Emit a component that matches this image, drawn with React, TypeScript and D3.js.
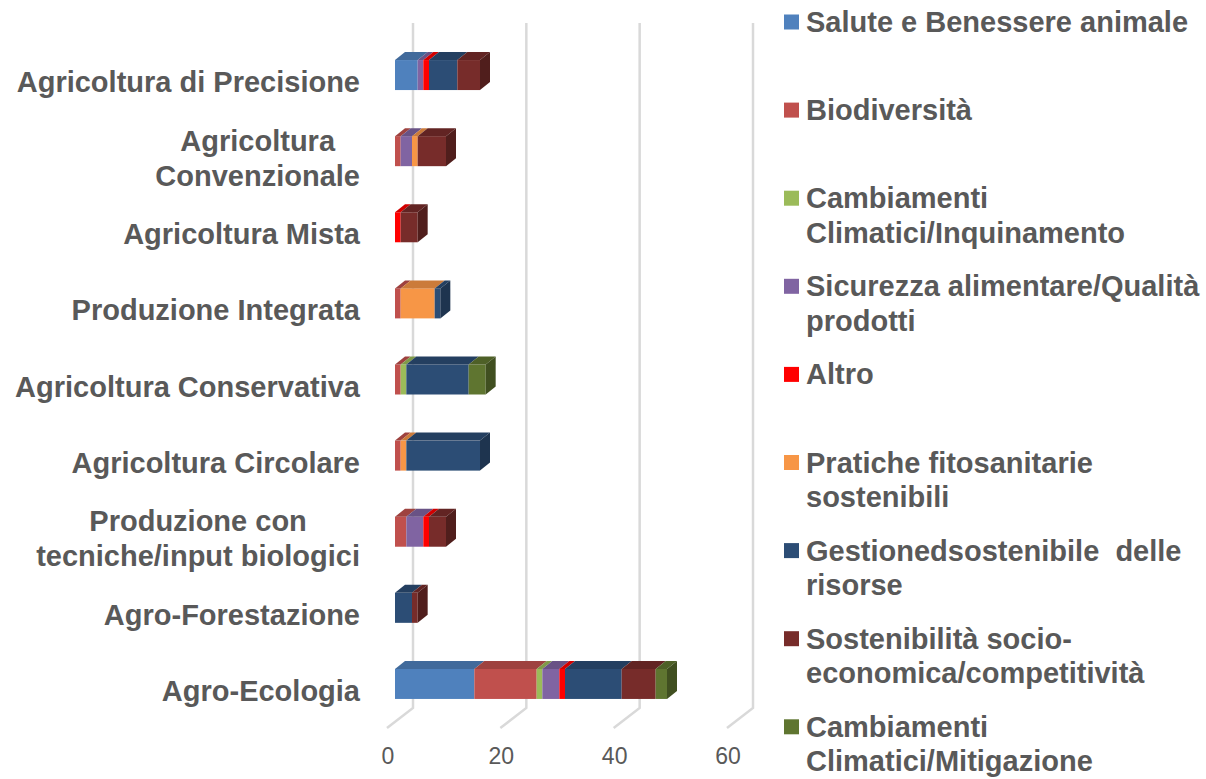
import React from "react";
import * as d3 from "d3";

const categories = [
  "Agricoltura di Precisione",
  "Agricoltura Convenzionale",
  "Agricoltura Mista",
  "Produzione Integrata",
  "Agricoltura Conservativa",
  "Agricoltura Circolare",
  "Produzione con tecniche/input biologici",
  "Agro-Forestazione",
  "Agro-Ecologia",
];
const categoryLines = [
  ["Agricoltura di Precisione"],
  ["Agricoltura", "Convenzionale"],
  ["Agricoltura Mista"],
  ["Produzione Integrata"],
  ["Agricoltura Conservativa"],
  ["Agricoltura Circolare"],
  ["Produzione con", "tecniche/input biologici"],
  ["Agro-Forestazione"],
  ["Agro-Ecologia"],
];

const seriesNames = [
  "Salute e Benessere animale",
  "Biodiversità",
  "Cambiamenti Climatici/Inquinamento",
  "Sicurezza alimentare/Qualità prodotti",
  "Altro",
  "Pratiche fitosanitarie sostenibili",
  "Gestionedsostenibile  delle risorse",
  "Sostenibilità socio-economica/competitività",
  "Cambiamenti Climatici/Mitigazione",
];
const legendLines = [
  ["Salute e Benessere animale"],
  ["Biodiversità"],
  ["Cambiamenti", "Climatici/Inquinamento"],
  ["Sicurezza alimentare/Qualità", "prodotti"],
  ["Altro"],
  ["Pratiche fitosanitarie", "sostenibili"],
  ["Gestionedsostenibile  delle", "risorse"],
  ["Sostenibilità socio-", "economica/competitività"],
  ["Cambiamenti", "Climatici/Mitigazione"],
];
const seriesColors = [
  "#4F81BD",
  "#C0504D",
  "#9BBB59",
  "#8064A2",
  "#FF0000",
  "#F79646",
  "#2C4D75",
  "#772C2A",
  "#5F7530",
];

// values per series, in category order (top to bottom)
const saluteValues = [4, 0, 0, 0, 0, 0, 0, 0, 14];
const biodiversitaValues = [0, 1, 0, 1, 1, 1, 2, 0, 11];
const inquinamentoValues = [0, 0, 0, 0, 1, 0, 0, 0, 1];
const sicurezzaValues = [1, 2, 0, 0, 0, 0, 3, 0, 3];
const altroValues = [1, 0, 1, 0, 0, 0, 1, 0, 1];
const fitosanitarieValues = [0, 1, 0, 6, 0, 1, 0, 0, 0];
const gestioneValues = [5, 0, 0, 1, 11, 13, 0, 3, 10];
const socioValues = [4, 5, 3, 0, 0, 0, 3, 1, 6];
const mitigazioneValues = [0, 0, 0, 0, 3, 0, 0, 0, 2];

const seriesValues = [
  saluteValues,
  biodiversitaValues,
  inquinamentoValues,
  sicurezzaValues,
  altroValues,
  fitosanitarieValues,
  gestioneValues,
  socioValues,
  mitigazioneValues,
];

const tickValues = [0, 20, 40, 60];

const FONT = "'Liberation Sans', Arial, sans-serif";
const TEXT = "#595959";
const LABEL_SIZE = 29;

function measure(text: string, size: number, bold: boolean) {
  const c = document.createElement("canvas").getContext("2d");
  if (!c) return text.length * size * 0.55;
  c.font = `${bold ? "bold " : ""}${size}px ${FONT}`;
  return c.measureText(text).width;
}

export default function App() {
  const W = 1206;
  const H = 779;
  const frontX0 = 395; // bars front-face zero
  const floorX0 = 387; // floor front zero
  const backX0 = 413; // back wall zero
  const wallTop = 23;
  const wallBottom = 708;
  const floorFrontY = 728;
  const barDx = 10;
  const barDy = -8;
  const barH = 30;

  const x = d3.scaleLinear().domain([0, 60]).range([0, 340]);
  const y = d3
    .scaleBand<string>()
    .domain(categories)
    .range([37, 722])
    .paddingInner(0)
    .paddingOuter(0);
  const bw = y.bandwidth();

  const bars: React.ReactNode[] = [];
  categories.forEach((cat, ci) => {
    const cy = (y(cat) as number) + bw / 2;
    const top = cy - barH / 2;
    let cum = 0;
    const segs: { x0: number; x1: number; color: string; key: string }[] = [];
    seriesValues.forEach((vals, si) => {
      const v = vals[ci];
      if (v > 0) {
        segs.push({
          x0: frontX0 + x(cum),
          x1: frontX0 + x(cum + v),
          color: seriesColors[si],
          key: `${ci}-${si}`,
        });
        cum += v;
      }
    });
    segs.forEach((s, k) => {
      const topCol = d3.color(s.color)!.darker(0.55).formatHex();
      bars.push(
        <g key={s.key}>
          <rect x={s.x0} y={top} width={s.x1 - s.x0} height={barH} fill={s.color} />
          <polygon
            points={`${s.x0},${top} ${s.x0 + barDx},${top + barDy} ${s.x1 + barDx},${top + barDy} ${s.x1},${top}`}
            fill={topCol}
          />
          {k === segs.length - 1 && (
            <polygon
              points={`${s.x1},${top} ${s.x1 + barDx},${top + barDy} ${s.x1 + barDx},${top + barH + barDy} ${s.x1},${top + barH}`}
              fill={d3.color(s.color)!.darker(1.1).formatHex()}
            />
          )}
        </g>
      );
    });
  });

  return (
    <svg
      width={W}
      height={H}
      style={{ position: "fixed", left: 0, top: 0, background: "#fff" }}
    >
      {/* gridlines */}
      {tickValues.map((t) => {
        const bx = backX0 + x(t);
        const fx = floorX0 + x(t);
        return (
          <polyline
            key={`g${t}`}
            points={`${bx},${wallTop} ${bx},${wallBottom} ${fx},${floorFrontY}`}
            fill="none"
            stroke="#D9D9D9"
            strokeWidth={2.5}
          />
        );
      })}
      {/* tick labels */}
      {tickValues.map((t) => (
        <text
          key={`t${t}`}
          x={floorX0 + x(t) + 1}
          y={764}
          textAnchor="middle"
          fontFamily={FONT}
          fontSize={23}
          fill={TEXT}
        >
          {t}
        </text>
      ))}
      {bars}
      {/* category labels */}
      {categories.map((cat, ci) => {
        const lines = categoryLines[ci];
        const cy = (y(cat) as number) + bw / 2 + 7;
        const lh = 35;
        const maxW = Math.max(...lines.map((l) => measure(l, LABEL_SIZE, true)));
        const right = 360;
        const cx = lines.length > 1 ? right - maxW / 2 : right;
        return (
          <text
            key={`c${ci}`}
            fontFamily={FONT}
            fontWeight="bold"
            fontSize={LABEL_SIZE}
            fill={TEXT}
            textAnchor={lines.length > 1 ? "middle" : "end"}
          >
            {lines.map((l, li) => (
              <tspan
                key={li}
                x={cx}
                y={cy - ((lines.length - 1) * lh) / 2 + li * lh + 10}
              >
                {l}
              </tspan>
            ))}
          </text>
        );
      })}
      {/* legend */}
      {seriesNames.map((name, si) => {
        const ly = 22 + 88.1 * si;
        return (
          <g key={`l${si}`}>
            <rect x={784} y={ly - 7.5} width={15} height={15} fill={seriesColors[si]} />
            <text
              fontFamily={FONT}
              fontWeight="bold"
              fontSize={LABEL_SIZE}
              fill={TEXT}
              style={{ whiteSpace: "pre" }}
            >
              {legendLines[si].map((l, li) => (
                <tspan key={li} x={806} y={ly + 10 + li * 34.5}>
                  {l}
                </tspan>
              ))}
            </text>
          </g>
        );
      })}
    </svg>
  );
}
